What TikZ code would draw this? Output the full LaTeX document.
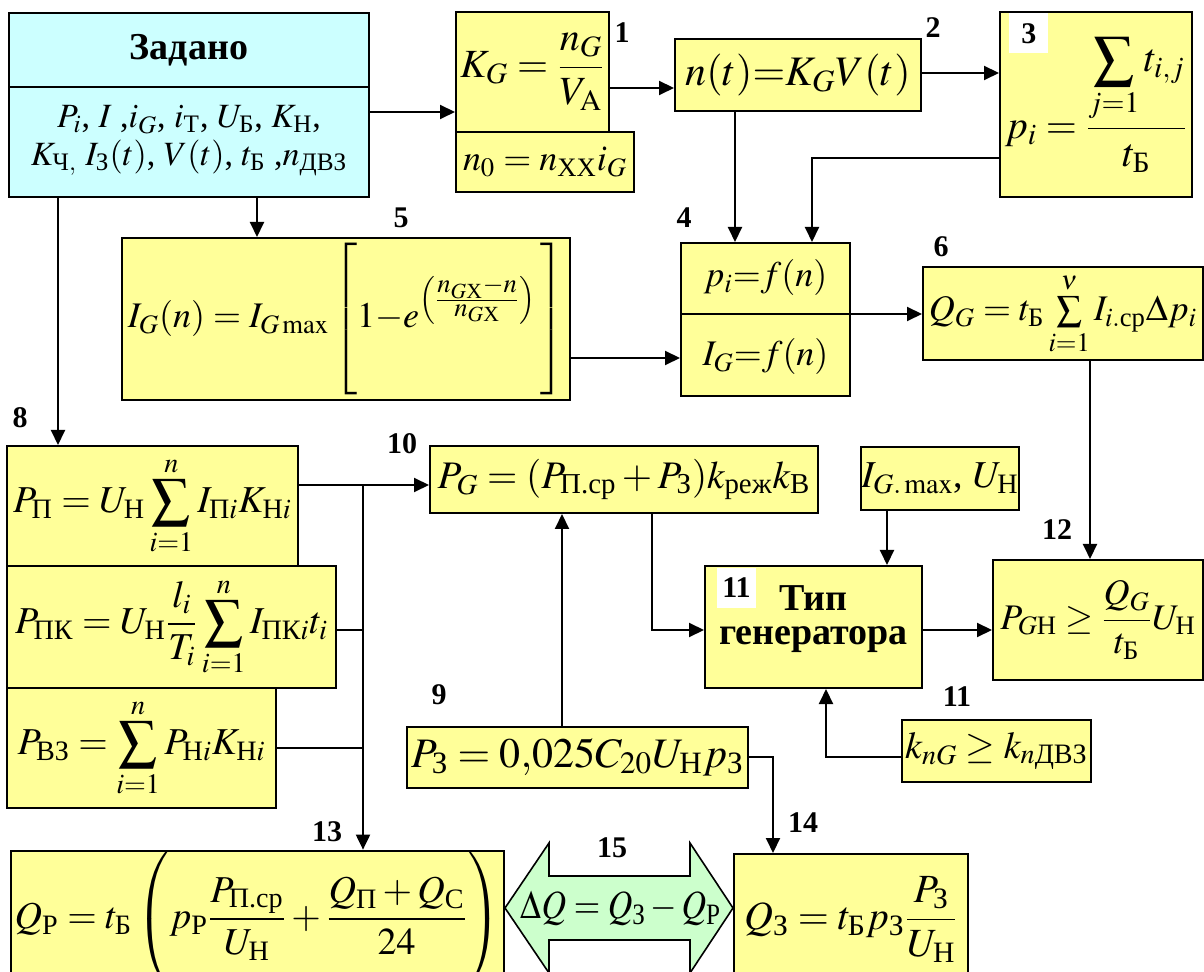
\documentclass[tikz,border=0pt]{standalone}
\usepackage{amsmath}
\usepackage{mathptmx}
\usepackage{fontspec}
\setmainfont{Liberation Serif}
\usetikzlibrary{arrows.meta,calc}
\definecolor{yel}{HTML}{FFFF99}
\definecolor{cya}{HTML}{CCFFFF}
\definecolor{grn}{HTML}{CCFFCC}
\newcommand{\tc}[1]{\text{#1}}
\newcommand{\fs}[1]{\fontsize{#1}{#1}\selectfont}
\begin{document}
\begin{tikzpicture}[x=0.5pt,y=-0.5pt,
  box/.style={draw=black, line width=1pt, fill=yel, inner sep=0pt},
  lbl/.style={font=\fs{15}\bfseries, inner sep=0pt},
  con/.style={line width=1pt},
  arr/.style={con, -{Triangle[length=7.5pt,width=7pt]}}]
\useasboundingbox (0,0) rectangle (1204,972);
\clip (0,0) rectangle (1204,972);
% helper coordinates
\coordinate (x58) at (58,0);
\coordinate (x257) at (257,0);
\coordinate (x363) at (363,0);
\coordinate (x562) at (562,0);
\coordinate (x652) at (652,0);
\coordinate (x735) at (735,0);
\coordinate (x773) at (773,0);
\coordinate (x812) at (812,0);
\coordinate (x826) at (826,0);
\coordinate (x887) at (887,0);
\coordinate (x1090) at (1090,0);
\coordinate (y73) at (0,73);
\coordinate (y88) at (0,88);
\coordinate (y112) at (0,112);
\coordinate (y158) at (0,158);
\coordinate (y314) at (0,314);
\coordinate (y358) at (0,358);
\coordinate (y485) at (0,485);
\coordinate (y630) at (0,630);
\coordinate (y748) at (0,748);
\coordinate (y757) at (0,757);

% Задано
\node[box, fill=cya, minimum width=180pt, minimum height=92pt] (zad) at (189,105) {};
\draw[line width=1pt] (zad.west |- 0,87) coordinate (zdl) -- (zad.east |- zdl);
\node[font=\fs{19}\bfseries] (zadT) at (189,50) {Задано};
\node[font=\fontsize{17}{19}\selectfont, align=center, inner sep=0pt] (zadP) at (189,141)
  {$P_i$, $I$ ,$i_G$, $i_\tc{Т}$, $U_\tc{Б}$, $K_\tc{Н}$,\\
   $K_{\tc{Ч},}$ $I_\tc{З}(t)$, $V(t)$, $t_\tc{Б}$ ,$n_\tc{ДВЗ}$};

% 1
\node[box, minimum width=76.5pt, minimum height=60pt, font=\fs{20}] (b1) at (532.5,72)
  {$K_G = \dfrac{n_G}{V_\mathrm{A}}$};
\node[box, minimum width=89pt, minimum height=30pt, font=\fs{18}] (b1b) at (545,162)
  {$n_0 = n_\tc{ХХ} i_G$};
\node[lbl] (l1) at (622,33) {1};

% 2
\node[box, minimum width=123pt, minimum height=36pt, font=\fs{21}] (b2) at (798,75)
  {$n(t){=}K_G V(t)$};
\node[lbl] (l2) at (933,28) {2};

% 3
\node[box, minimum width=96pt, minimum height=92.5pt, font=\fs{20}] (b3) at (1096,104.5)
  {$p_i = \dfrac{\displaystyle\sum_{j=1} t_{i,j}}{t_\tc{Б}}$};
\node[lbl, fill=white, minimum width=19.5pt, minimum height=20pt, anchor=north west] (l3) at (1009,13) {3\hspace{8pt}};

% 4
\node[box, minimum width=84.5pt, minimum height=76.5pt] (b4) at (765.5,319.5) {};
\draw[line width=1pt] (b4.west |- y314) -- (b4.east |- y314);
\node[font=\fs{18}] (b4a) at (765.5,278) {$p_i{=}f(n)$};
\node[font=\fs{18}] (b4b) at (765.5,357) {$I_G{=}f(n)$};
\node[lbl] (l4) at (684,218) {4};

% 5
\node[box, minimum width=224pt, minimum height=81pt, font=\fs{18}] (b5) at (346,319)
  {$I_G(n) = I_{G\max}\left[1 {-} e^{\left(\frac{\scriptstyle n_{G\tc{Х}}-n}{\scriptstyle n_{G\tc{Х}}}\right)}\rule[-31pt]{0pt}{73pt}\hspace{2pt}\right]$};
\node[lbl] (l5) at (401,218) {5};

% 6
\node[box, minimum width=140pt, minimum height=46.5pt, font=\fs{18}] (b6) at (1063,313.5)
  {$Q_G = t_\tc{Б}\sum\limits_{i=1}^{\nu} I_{i.\tc{ср}}\Delta p_i$};
\node[lbl] (l6) at (941,247) {6};

% 8
\node[box, minimum width=145.5pt, minimum height=60pt, font=\fs{19}] (b8a) at (152.5,506)
  {$P_\tc{П} = U_\tc{Н}\displaystyle\sum_{i=1}^{n} I_{\tc{П}i}K_{\tc{Н}i}$};
\node[box, minimum width=164.5pt, minimum height=61pt, font=\fs{19}] (b8b) at (171.5,627)
  {$P_\tc{ПК} = U_\tc{Н}\dfrac{l_i}{T_i}\displaystyle\sum_{i=1}^{n} I_{\tc{ПК}i}t_i$};
\node[box, minimum width=134.5pt, minimum height=60pt, font=\fs{19}] (b8c) at (141.5,748)
  {$P_\tc{ВЗ} = \displaystyle\sum_{i=1}^{n} P_{\tc{Н}i}K_{\tc{Н}i}$};
\node[lbl] (l8) at (20,418) {8};

% 10
\node[box, minimum width=194pt, minimum height=33.5pt, font=\fs{19.5}] (b10) at (624,479.5)
  {$P_G = (P_{\tc{П.ср}} + P_\tc{З})k_\tc{реж}k_\tc{В}$};
\node[lbl] (l10) at (402,444) {10};

% I_G max
\node[box, minimum width=77pt, minimum height=31.5pt, font=\fs{19}] (bI) at (940,478.5)
  {$I_{G.\max}$, $U_\tc{Н}$};

% 11
\node[box, minimum width=108.5pt, minimum height=61pt] (b11) at (813.5,627) {};
\node[font=\fs{19}\bfseries, align=center] (b11t) at (813.5,619) {Тип\\[-2pt]генератора};
\node[lbl, fill=white, minimum width=19.5pt, minimum height=20pt] (l11a) at (736.5,588) {11};

% 12
\node[box, minimum width=105pt, minimum height=60pt, font=\fs{18}] (b12) at (1098,620)
  {$P_{G\tc{Н}} \geq \dfrac{Q_G}{t_\tc{Б}} U_\tc{Н}$};
\node[lbl] (l12) at (1057,530) {12};

% k
\node[box, minimum width=94.5pt, minimum height=31pt, font=\fs{19}] (bk) at (996.5,751)
  {$k_{nG} \geq k_{n\tc{ДВЗ}}$};
\node[lbl] (l11b) at (957,697) {11};

% 9
\node[box, minimum width=170.5pt, minimum height=30.5pt, font=\fs{21}] (b9) at (577.5,757.5)
  {$P_\tc{З} = 0{,}025 C_{20} U_\tc{Н} p_\tc{З}$};
\node[lbl] (l9) at (439,695) {9};

% 13
\node[box, minimum width=246.5pt, minimum height=66pt, font=\fs{19}] (b13) at (257.5,919)
  {$Q_\tc{Р} = t_\tc{Б}\left(p_\tc{Р}\dfrac{P_{\tc{П.ср}}}{U_\tc{Н}} + \dfrac{Q_\tc{П}+Q_\tc{С}}{24}\rule[-28pt]{0pt}{62pt}\right)$};
\node[lbl] (l13) at (327,832) {13};

% 14
\node[box, minimum width=117pt, minimum height=65.5pt, font=\fs{20}] (b14) at (851,919.5)
  {$Q_\tc{З} = t_\tc{Б} p_\tc{З}\dfrac{P_\tc{З}}{U_\tc{Н}}$};
\node[lbl] (l14) at (803,823) {14};

% 15 double arrow
\draw[fill=grn, line width=0.8pt] (b13.east |- 0,908) -- (549,843) -- (549,876) -- (690,876) -- (690,843)
  -- (b14.west |- 0,908) -- (690,973) -- (690,940) -- (549,940) -- (549,973) -- cycle;
\node[font=\fs{20}, xscale=0.85] (dq) at (621,908) {$\Delta Q = Q_\tc{З} - Q_\tc{Р}$};
\node[lbl] (l15) at (612,848) {15};

% connectors
\draw[arr] (zad.east |- y112) -- (b1.west |- y112);
\draw[arr] (b1.east |- y88) -- (b2.west |- y88);
\draw[arr] (b2.east |- y73) -- (b3.west |- y73);
\draw[arr] (b3.west |- y158) -| (b4.north -| x812);
\draw[arr] (b2.south -| x735) -- (b4.north -| x735);
\draw[arr] (zad.south -| x257) -- (b5.north -| x257);
\draw[arr] (b5.east |- y358) -- (b4.west |- y358);
\draw[arr] (b4.east |- y314) -- (b6.west |- y314);
\draw[arr] (b6.south -| x1090) -- (b12.north -| x1090);
\draw[arr] (zad.south -| x58) -- (b8a.north -| x58);
\draw[arr] (b8a.east |- y485) -- (b10.west |- y485);
\draw[arr] (x363 |- y485) -- (b13.north -| x363);
\draw[con] (b8b.east |- y630) -- (x363 |- y630);
\draw[con] (b8c.east |- y748) -- (x363 |- y748);
\draw[arr] (b9.north -| x562) -- (b10.south -| x562);
\draw[arr] (b10.south -| x652) |- (b11.west |- y630);
\draw[arr] (bI.south -| x887) -- (b11.north -| x887);
\draw[arr] (b11.east |- y630) -- (b12.west |- y630);
\draw[arr] (bk.west |- y757) -| (b11.south -| x826);
\draw[arr] (b9.east |- y757) -| (b14.north -| x773);
\end{tikzpicture}
\end{document}
